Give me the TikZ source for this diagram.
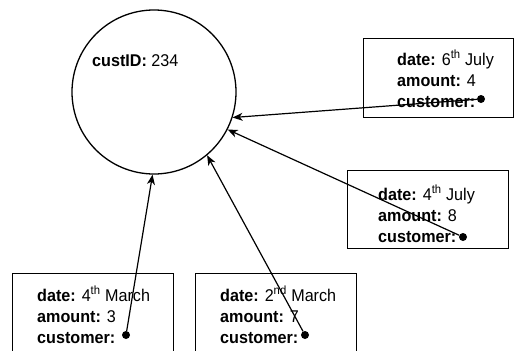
\documentclass[tikz,border=0pt]{standalone}
\usepackage{fontspec}
\setmainfont[FakeStretch=0.95]{Liberation Sans}
\usetikzlibrary{arrows.meta,positioning}

\tikzset{
  recbox/.style={draw,line width=1.3pt,anchor=north west,inner sep=0pt},
  rectext/.style={anchor=north west,align=left,inner sep=0pt,font=\fontsize{17}{21}\selectfont},
  custdot/.style={circle,fill,inner sep=0pt,minimum size=8pt},
  ref/.style={-{Stealth[length=10pt,width=8pt,inset=3pt]},line width=1.2pt}
}

\begin{document}
\begin{tikzpicture}[x=1pt,y=-1pt]
\useasboundingbox (0,0) rectangle (515,351);
\clip (0,0) rectangle (515,351);
% the customer
\node[draw,circle,line width=1.3pt,minimum size=164pt,inner sep=0pt] (cust) at (154,92) {};
\node[anchor=base west,inner sep=0pt,font=\fontsize{17}{21}\selectfont] (custid) at (92,66) {\textbf{custID:} 234};
% the orders
\node[recbox,minimum width=150pt,minimum height=79pt] (b1) at (363,38) {};
\node[rectext] (t1) at (397,50) {\textbf{date:} 6\textsuperscript{th} July\\\textbf{amount:} 4\\\textbf{customer:}};
\node[custdot] (d1) at (481,99) {};
\node[recbox,minimum width=161pt,minimum height=78pt] (b2) at (347,170) {};
\node[rectext] (t2) at (378,185) {\textbf{date:} 4\textsuperscript{th} July\\\textbf{amount:} 8\\\textbf{customer:}};
\node[custdot] (d2) at (463,237) {};
\node[recbox,minimum width=161pt,minimum height=100pt] (b3) at (12,273) {};
\node[rectext] (t3) at (37,286) {\textbf{date:} 4\textsuperscript{th} March\\\textbf{amount:} 3\\\textbf{customer:}};
\node[custdot] (d3) at (126,335) {};
\node[recbox,minimum width=161pt,minimum height=100pt] (b4) at (195,273) {};
\node[rectext] (t4) at (220,286) {\textbf{date:} 2\textsuperscript{nd} March\\\textbf{amount:} 7\\\textbf{customer:}};
\node[custdot] (d4) at (305,335) {};
% references back to the customer
\draw[ref] (d1) -- (cust.-18);
\draw[ref] (d2) -- (cust.-27);
\draw[ref] (d3) -- (cust.-91);
\draw[ref] (d4) -- (cust.-50);
\end{tikzpicture}
\end{document}
